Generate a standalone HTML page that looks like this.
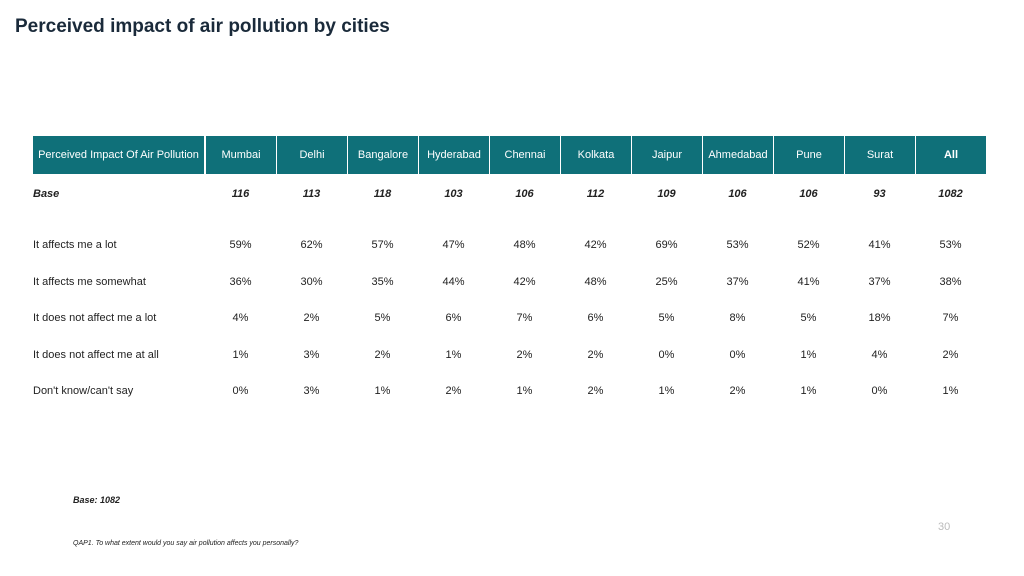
<!DOCTYPE html>
<html><head><meta charset="utf-8"><style>
body{margin:0;width:1024px;height:576px;background:#fff;font-family:"Liberation Sans",sans-serif;position:relative;overflow:hidden}
.t{position:absolute;white-space:nowrap}
.h{position:absolute;top:136px;height:38px;background:#0f7079;color:#fff;font-size:11px;display:flex;align-items:center;justify-content:center}
.c{position:absolute;font-size:11px;color:#222;text-align:center;width:71px;transform:translateY(-50%)}
.l{position:absolute;left:33px;font-size:11px;color:#222;transform:translateY(-50%)}
</style></head><body>
<div class="t" style="left:15px;top:16px;font-size:19px;font-weight:bold;color:#1a2a3a">Perceived impact of air pollution by cities</div>
<div id="tbl"></div>
<div class="t" style="left:73px;top:495px;font-size:9px;font-style:italic;font-weight:bold;color:#222">Base: 1082</div>
<div class="t" style="left:938px;top:521px;font-size:11px;color:#bbb">30</div>
<div class="t" style="left:73px;top:540px;font-size:7px;font-style:italic;color:#222">QAP1. To what extent would you say air pollution affects you personally?</div>
<script>
const cities=["Mumbai","Delhi","Bangalore","Hyderabad","Chennai","Kolkata","Jaipur","Ahmedabad","Pune","Surat","All"];
const base=["116","113","118","103","106","112","109","106","106","93","1082"];
const rowLabels=["It affects me a lot","It affects me somewhat","It does not affect me a lot","It does not affect me at all","Don't know/can't say"];
const r1=[59,62,57,47,48,42,69,53,52,41,53];
const r2=[36,30,35,44,42,48,25,37,41,37,38];
const r3=[4,2,5,6,7,6,5,8,5,18,7];
const r4=[1,3,2,1,2,2,0,0,1,4,2];
const r5=[0,3,1,2,1,2,1,2,1,0,1];
const rows=[r1,r2,r3,r4,r5];
const T=document.getElementById('tbl');
function mk(cls,txt,st){const d=document.createElement('div');d.className=cls;d.textContent=txt;Object.assign(d.style,st);T.appendChild(d);return d;}
let h=mk('h','Perceived Impact Of Air Pollution',{left:'33px',width:'171px'});


cities.forEach((c,i)=>{const x=205+i*71;
 const e=mk('h',c,{left:(x+1)+'px',width:'70px',fontWeight:i==10?'bold':'normal',alignItems:i==10?'flex-start':'center',paddingTop:i==10?'13px':'0',boxSizing:'border-box'});
 
 
 const b=mk('c',base[i],{left:x+'px',top:'194px',fontWeight:'bold',fontStyle:'italic'});
 
 
});
const bl=mk('l','Base',{top:'194px',fontWeight:'bold',fontStyle:'italic'});


const ys=[245,282,318,355,391];
rows.forEach((r,j)=>{
 const l=mk('l',rowLabels[j],{top:ys[j]+'px'});
 
 
 r.forEach((v,i)=>{const c=mk('c',v+'%',{left:(205+i*71)+'px',top:ys[j]+'px'});
 
 });
});
</script>
</body></html>
